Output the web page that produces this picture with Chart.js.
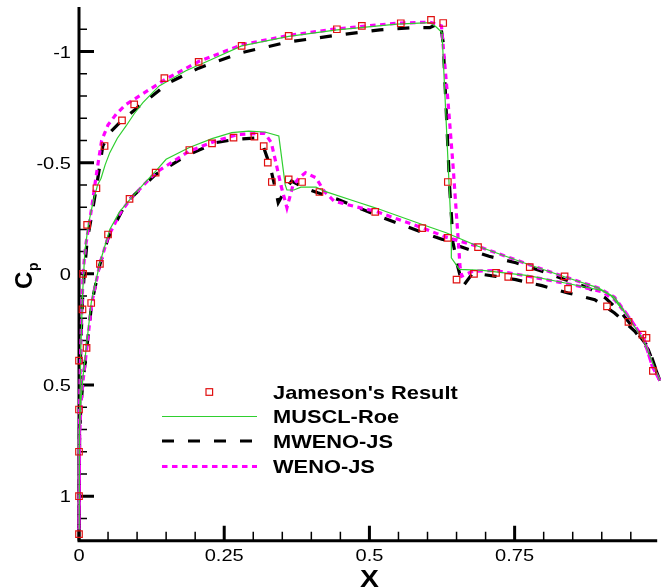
<!DOCTYPE html>
<html>
<head>
<meta charset="utf-8">
<script src="https://cdn.jsdelivr.net/npm/chart.js@4.4.0/dist/chart.umd.min.js"></script>
<style>
  html, body { margin: 0; padding: 0; background: #fff; overflow: hidden; }
</style>
</head>
<body>
<canvas id="cp" width="661" height="588"></canvas>
<script>
// ---- data, [x, Cp] ----
const jamesonUpper = [
  [0, 1.17], [0, 1.0], [0, 0.80], [0, 0.61], [0, 0.39], [0.006, 0.16], [0.007, 0.0],
  [0.014, -0.22], [0.030, -0.385], [0.044, -0.575], [0.074, -0.69], [0.095, -0.762],
  [0.147, -0.88], [0.206, -0.953], [0.280, -1.025], [0.361, -1.07], [0.444, -1.10],
  [0.487, -1.115], [0.554, -1.127], [0.606, -1.142], [0.627, -1.128], [0.635, -0.413],
  [0.650, 0.026], [0.680, 0.0], [0.718, -0.004], [0.739, 0.014], [0.776, 0.026],
  [0.842, 0.068], [0.909, 0.146], [0.946, 0.216], [0.970, 0.273], [0.988, 0.436]
];
const jamesonLower = [
  [0.013, 0.333], [0.021, 0.131], [0.036, -0.045], [0.05, -0.177], [0.087, -0.337],
  [0.132, -0.455], [0.190, -0.557], [0.229, -0.587], [0.266, -0.613], [0.302, -0.617],
  [0.318, -0.574], [0.325, -0.5], [0.332, -0.413], [0.361, -0.425], [0.384, -0.413],
  [0.414, -0.368], [0.510, -0.279], [0.591, -0.206], [0.635, -0.162], [0.687, -0.12],
  [0.776, -0.03], [0.836, 0.011], [0.977, 0.288]
];

const musclUpper = [
  [0, 1.15], [0.001, 0.7], [0.003, 0.35], [0.006, 0.1], [0.010, -0.1], [0.016, -0.22],
  [0.024, -0.32], [0.032, -0.40], [0.038, -0.43], [0.045, -0.49], [0.053, -0.545],
  [0.066, -0.61], [0.081, -0.665], [0.095, -0.72], [0.110, -0.77], [0.138, -0.845],
  [0.184, -0.913], [0.229, -0.965], [0.28, -1.025], [0.361, -1.068], [0.444, -1.097],
  [0.547, -1.123], [0.604, -1.13], [0.614, -1.112], [0.625, -1.085], [0.641, -0.185],
  [0.641, -0.072], [0.655, -0.02], [0.695, -0.016], [0.774, 0.008], [0.837, 0.041],
  [0.899, 0.074], [0.917, 0.101], [0.945, 0.191], [0.973, 0.304], [0.99, 0.416], [1.0, 0.48]
];
const musclLower = [
  [0, 1.15], [0.001, 0.75], [0.003, 0.58], [0.007, 0.46], [0.013, 0.32], [0.021, 0.13],
  [0.036, -0.05], [0.053, -0.2], [0.07, -0.28], [0.089, -0.338], [0.11, -0.40],
  [0.132, -0.462], [0.15, -0.515], [0.19, -0.568], [0.229, -0.608], [0.263, -0.635],
  [0.292, -0.642], [0.32, -0.638], [0.344, -0.62], [0.355, -0.40], [0.358, -0.377],
  [0.370, -0.377], [0.382, -0.39], [0.408, -0.39], [0.422, -0.372], [0.479, -0.323],
  [0.51, -0.297], [0.591, -0.222], [0.632, -0.185], [0.687, -0.124], [0.774, -0.042],
  [0.837, 0.014], [0.894, 0.063], [0.922, 0.105], [0.945, 0.191], [0.973, 0.304],
  [0.99, 0.416], [1.0, 0.48]
];

const mwenoUpper = [
  [0, 1.15], [0.001, 0.6], [0.003, 0.33], [0.006, 0.12], [0.009, 0.0], [0.014, -0.15],
  [0.021, -0.25], [0.03, -0.39], [0.041, -0.575], [0.055, -0.64], [0.07, -0.68],
  [0.104, -0.755], [0.155, -0.86], [0.206, -0.925], [0.28, -0.995], [0.361, -1.043],
  [0.444, -1.073], [0.518, -1.097], [0.575, -1.107], [0.604, -1.107], [0.622, -1.13],
  [0.627, -1.04], [0.638, -0.395], [0.644, -0.14], [0.652, -0.034], [0.661, 0.056],
  [0.678, -0.004], [0.695, 0.003], [0.718, 0.011], [0.752, 0.026], [0.797, 0.053],
  [0.842, 0.086], [0.888, 0.116], [0.922, 0.176], [0.957, 0.258], [0.98, 0.34], [1.0, 0.48]
];
const mwenoLower = [
  [0, 1.15], [0.001, 0.75], [0.003, 0.6], [0.007, 0.48], [0.014, 0.32], [0.022, 0.13],
  [0.036, -0.042], [0.05, -0.16], [0.081, -0.32], [0.132, -0.447], [0.184, -0.53],
  [0.235, -0.59], [0.269, -0.605], [0.302, -0.61], [0.317, -0.575], [0.329, -0.485],
  [0.337, -0.395], [0.343, -0.32], [0.354, -0.372], [0.366, -0.417], [0.388, -0.387],
  [0.411, -0.365], [0.445, -0.335], [0.524, -0.252], [0.592, -0.185], [0.626, -0.155],
  [0.655, -0.124], [0.706, -0.079], [0.752, -0.05], [0.797, -0.012], [0.837, 0.026],
  [0.877, 0.063], [0.906, 0.108], [0.934, 0.176], [0.957, 0.251], [0.98, 0.33], [1.0, 0.48]
];

const wenoUpper = [
  [0, 1.15], [0.001, 0.6], [0.003, 0.33], [0.005, 0.16], [0.007, 0.0], [0.011, -0.12],
  [0.016, -0.2], [0.022, -0.3], [0.027, -0.395], [0.033, -0.5], [0.039, -0.6],
  [0.05, -0.67], [0.064, -0.718], [0.08, -0.76], [0.104, -0.8], [0.149, -0.875],
  [0.206, -0.955], [0.28, -1.03], [0.361, -1.072], [0.444, -1.102], [0.547, -1.127],
  [0.604, -1.132], [0.624, -1.115], [0.63, -0.935], [0.635, -0.785], [0.644, -0.485],
  [0.65, -0.26], [0.656, -0.034], [0.659, 0.011], [0.678, -0.012], [0.718, -0.015],
  [0.78, 0.014], [0.848, 0.048], [0.9, 0.08], [0.922, 0.116], [0.95, 0.206],
  [0.973, 0.296], [0.987, 0.416], [1.0, 0.48]
];
const wenoLower = [
  [0, 1.15], [0.001, 0.75], [0.003, 0.6], [0.007, 0.48], [0.014, 0.32], [0.022, 0.13],
  [0.036, -0.045], [0.05, -0.165], [0.07, -0.27], [0.09, -0.342], [0.132, -0.455],
  [0.19, -0.552], [0.235, -0.597], [0.274, -0.627], [0.32, -0.632], [0.331, -0.59],
  [0.339, -0.5], [0.348, -0.395], [0.358, -0.297], [0.368, -0.395], [0.379, -0.432],
  [0.39, -0.455], [0.408, -0.432], [0.422, -0.372], [0.439, -0.327], [0.479, -0.30],
  [0.51, -0.282], [0.591, -0.207], [0.632, -0.165], [0.687, -0.124], [0.774, -0.042],
  [0.837, 0.014], [0.894, 0.063], [0.922, 0.105], [0.95, 0.206], [0.973, 0.296],
  [0.987, 0.416], [1.0, 0.48]
];

const xTicks = [0, 0.25, 0.5, 0.75];
const cpTicks = [-1, -0.5, 0, 0.5, 1];
const seriesNames = ["Jameson's Result", 'MUSCL-Roe', 'MWENO-JS', 'WENO-JS'];

// ---- helpers ----
const toPts = arr => arr.map(([x, y]) => ({ x, y }));
// go round the airfoil: upper surface TE -> LE, then lower surface LE -> TE
const loop = (up, lo) => toPts([...up].reverse().concat(lo));

const SX = 1.18; // tecplot text comes out a bit wide
const FONT = '"Liberation Sans", Arial, Helvetica, sans-serif';

function wideText(ctx, txt, x, y, align) {
  ctx.save();
  ctx.translate(x, y);
  ctx.scale(SX, 1);
  ctx.textAlign = align;
  ctx.textBaseline = 'alphabetic';
  ctx.fillText(txt, 0, 0);
  ctx.restore();
}

const tecAxes = {
  id: 'tecAxes',
  beforeDatasetsDraw(chart) {
    const { ctx, chartArea: a, scales: { x, y } } = chart;
    ctx.save();
    ctx.strokeStyle = '#000';
    ctx.lineCap = 'butt';

    // minor ticks (inside)
    ctx.lineWidth = 1.5;
    ctx.beginPath();
    for (let i = -11; i <= 11; i++) {
      if (i % 5 === 0) continue;
      const py = y.getPixelForValue(i / 10);
      ctx.moveTo(a.left, py); ctx.lineTo(a.left + 8, py);
    }
    for (let i = 1; i * 0.05 < x.max; i++) {
      if (i % 5 === 0) continue;
      const px = x.getPixelForValue(i * 0.05);
      ctx.moveTo(px, a.bottom); ctx.lineTo(px, a.bottom - 9);
    }
    ctx.stroke();

    // major ticks
    ctx.lineWidth = 3;
    ctx.beginPath();
    cpTicks.forEach(v => {
      const py = y.getPixelForValue(v);
      ctx.moveTo(a.left, py); ctx.lineTo(a.left + 15, py);
    });
    xTicks.forEach(v => {
      const px = x.getPixelForValue(v);
      ctx.moveTo(px, a.bottom); ctx.lineTo(px, a.bottom - 15);
    });
    ctx.stroke();

    // axis lines
    ctx.beginPath();
    ctx.moveTo(a.left, a.top);
    ctx.lineTo(a.left, a.bottom);
    ctx.lineTo(a.right + 2, a.bottom);
    ctx.stroke();
    ctx.restore();
  },
  afterDraw(chart) {
    const { ctx, chartArea: a, scales: { x, y } } = chart;
    ctx.save();
    ctx.fillStyle = '#000';

    // tick labels
    ctx.font = '17px ' + FONT;
    cpTicks.forEach(v => wideText(ctx, String(v), a.left - 8, y.getPixelForValue(v) + 6.2, 'right'));
    xTicks.forEach(v => wideText(ctx, String(v), x.getPixelForValue(v), 561, 'center'));

    // axis titles
    ctx.font = 'bold 24px ' + FONT;
    wideText(ctx, 'X', x.getPixelForValue(0.5), 587, 'center');
    ctx.save();
    ctx.translate(32, 289);
    ctx.rotate(-Math.PI / 2);
    ctx.textAlign = 'left';
    ctx.fillText('C', 0, 0);
    ctx.font = 'bold 14px ' + FONT;
    ctx.fillText('p', 18, 6);
    ctx.restore();

    // legend
    const rows = [392, 416.5, 441, 466.5];
    chart.data.datasets.forEach((ds, i) => {
      const ry = rows[i];
      ctx.save();
      if (i === 0) {
        ctx.strokeStyle = ds.borderColor;
        ctx.lineWidth = ds.borderWidth;
        ctx.strokeRect(206, ry - 3.3, 6.6, 6.6);
      } else {
        ctx.strokeStyle = ds.borderColor;
        ctx.lineWidth = ds.borderWidth;
        ctx.setLineDash(ds.borderDash || []);
        ctx.beginPath();
        ctx.moveTo(162, ry); ctx.lineTo(257, ry);
        ctx.stroke();
      }
      ctx.restore();
      ctx.font = 'bold 18.5px ' + FONT;
      wideText(ctx, ds.label, 273, ry + 6.8, 'left');
    });
    ctx.restore();
  }
};

new Chart(document.getElementById('cp'), {
  type: 'scatter',
  data: {
    datasets: [
      {
        label: seriesNames[0],
        data: toPts(jamesonUpper.concat(jamesonLower)),
        pointStyle: 'rect',
        pointRadius: 4.6,
        borderWidth: 1.2,
        borderColor: '#e01010',
        backgroundColor: 'rgba(0,0,0,0)',
        showLine: false,
        clip: false,
        order: 0
      },
      {
        label: seriesNames[1],
        data: loop(musclUpper, musclLower),
        showLine: true,
        borderColor: '#2fcf2f',
        borderWidth: 1.2,
        pointRadius: 0,
        clip: false,
        order: 1
      },
      {
        label: seriesNames[2],
        data: loop(mwenoUpper, mwenoLower),
        showLine: true,
        borderColor: '#000000',
        borderWidth: 3.2,
        borderDash: [12, 14],
        pointRadius: 0,
        clip: false,
        order: 3
      },
      {
        label: seriesNames[3],
        data: loop(wenoUpper, wenoLower),
        showLine: true,
        borderColor: '#ff00ff',
        borderWidth: 3.2,
        borderDash: [5.5, 4.5],
        pointRadius: 0,
        clip: false,
        order: 2
      }
    ]
  },
  options: {
    responsive: false,
    devicePixelRatio: 1,
    animation: false,
    layout: { padding: { top: 7, left: 0, right: 0, bottom: 0 } },
    plugins: { legend: { display: false }, tooltip: { enabled: false } },
    scales: {
      x: {
        type: 'linear',
        min: 0,
        max: 0.992,
        grid: { display: false },
        border: { display: false },
        ticks: { display: false },
        afterFit: s => { s.height = 47.3; }
      },
      y: {
        type: 'linear',
        reverse: true,
        min: -1.2,
        max: 1.2,
        grid: { display: false },
        border: { display: false },
        ticks: { display: false },
        afterFit: s => { s.width = 79; }
      }
    }
  },
  plugins: [tecAxes]
});
</script>
</body>
</html>
